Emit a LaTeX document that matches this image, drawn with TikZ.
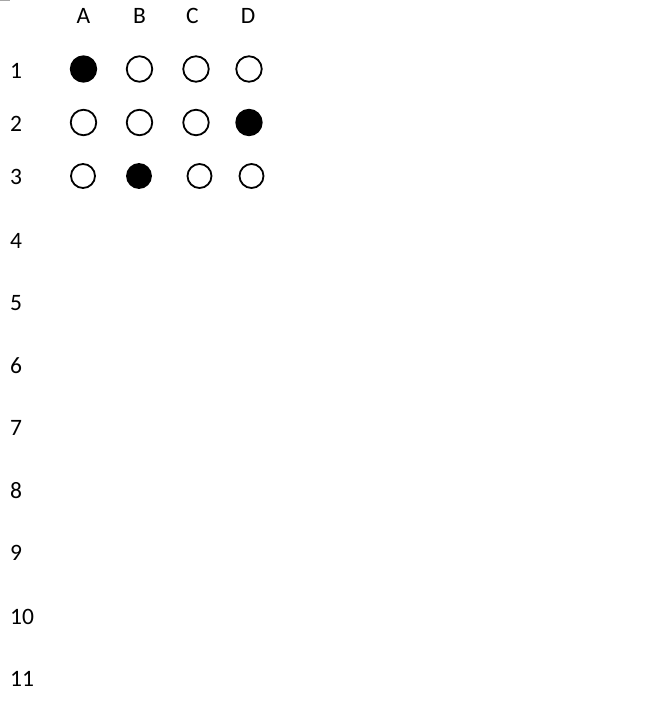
\documentclass[tikz,border=0pt]{standalone}
\usepackage{fontspec}
\setmainfont{Carlito}
\begin{document}
\begin{tikzpicture}[x=1pt,y=-1pt,
  lbl/.style={inner sep=0pt,font=\fontsize{23.5}{27}\selectfont},
  rowlbl/.style={lbl,anchor=base west},
  collbl/.style={lbl,anchor=base},
  dot/.style={circle,draw=black,line width=1.8pt,minimum size=25.5pt,inner sep=0pt},
  sdot/.style={dot,minimum size=24pt},
  on/.style={fill=black}]
\useasboundingbox (0,0) rectangle (671,701);
\coordinate (m1) at (0,0.5);
\coordinate (m2) at (10,0.5);
\draw[gray!70,line width=1pt] (m1) -- (m2);
% column labels
\node[collbl] (cA) at (83.5,24) {A};
\node[collbl] (cB) at (139.5,24) {B};
\node[collbl] (cC) at (192.5,24) {C};
\node[collbl] (cD) at (248,24) {D};
% row labels
\foreach \r/\y in {1/78,2/131,3/184.5,4/248,5/310,6/373,7/435.5,8/498,9/560.5,10/624,11/686}
  \node[rowlbl] (r\r) at (10,\y) {\r};
% dots
\node[dot,on] (a1) at (83.5,69) {};
\node[dot] (b1) at (139.5,69) {};
\node[dot] (c1) at (196,69) {};
\node[dot] (d1) at (249,69) {};
\node[dot] (a2) at (83.5,122.5) {};
\node[dot] (b2) at (139.5,122.5) {};
\node[dot] (c2) at (196,122.5) {};
\node[dot,on] (d2) at (249,122.5) {};
\node[sdot] (a3) at (83,176) {};
\node[sdot,on] (b3) at (139,176) {};
\node[sdot] (c3) at (199.5,176) {};
\node[sdot] (d3) at (251.5,176) {};
\end{tikzpicture}
\end{document}
